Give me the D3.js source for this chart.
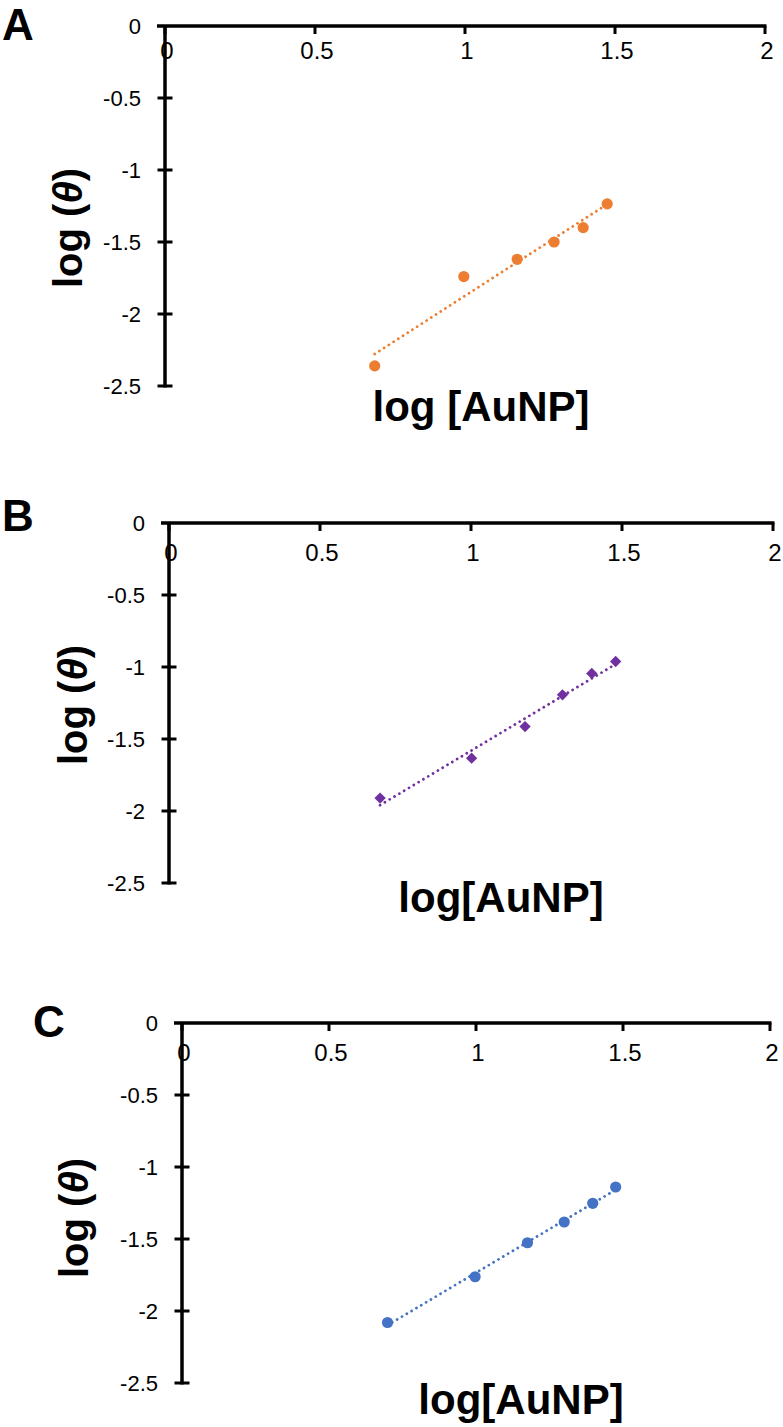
<!DOCTYPE html>
<html><head><meta charset="utf-8">
<script src="https://cdn.jsdelivr.net/npm/d3@7"></script>
<style>
html,body{margin:0;padding:0;background:#fff;}
svg{display:block;}
.tick-label{font-family:"Liberation Sans Narrow","Arial Narrow","Liberation Sans",Arial,sans-serif;fill:#000;}
.title{font-family:"Liberation Sans",Arial,sans-serif;font-weight:bold;fill:#000;}
</style></head>
<body>
<script>
// ---- data ----
const xTicks = [0, 0.5, 1, 1.5, 2];
const yTicks = [0, -0.5, -1, -1.5, -2, -2.5];
const xTickLabels = ["0", "0.5", "1", "1.5", "2"];
const yTickLabels = ["0", "-0.5", "-1", "-1.5", "-2", "-2.5"];

const panelLabels = ["A", "B", "C"];
const xTitles = ["log [AuNP]", "log[AuNP]", "log[AuNP]"];

const xA = [0.699, 0.996, 1.174, 1.297, 1.394, 1.474];
const yA = [-2.36, -1.74, -1.62, -1.50, -1.40, -1.235];

const xB = [0.699, 1.002, 1.179, 1.303, 1.400, 1.479];
const yB = [-1.91, -1.633, -1.414, -1.193, -1.045, -0.962];

const xC = [0.699, 0.997, 1.175, 1.300, 1.397, 1.475];
const yC = [-2.08, -1.762, -1.526, -1.382, -1.252, -1.139];

const colors = ["#ED7D31", "#7030A0", "#4472C4"];
const markers = ["circle", "diamond", "circle"];

// ---- layout ----
const W = 783, H = 1427;
const layout = [
  {x0:165, x2:765, y0:26,   yB:386,  xlOff:33, lab:[2,40],    xt:[481,421],  yt:[82,228]},
  {x0:169, x2:773, y0:523,  yB:883,  xlOff:38, lab:[2,531],   xt:[501,912],  yt:[87,705]},
  {x0:182, x2:770, y0:1023, yB:1383, xlOff:38, lab:[33,1037], xt:[521,1414], yt:[88,1218]}
];
const series = [[xA,yA],[xB,yB],[xC,yC]];

const svg = d3.select("body").append("svg").attr("width", W).attr("height", H);

function fit(xs, ys){
  const n = xs.length, mx = d3.mean(xs), my = d3.mean(ys);
  let sxy=0, sxx=0;
  for(let i=0;i<n;i++){sxy+=(xs[i]-mx)*(ys[i]-my); sxx+=(xs[i]-mx)**2;}
  const b = sxy/sxx; return {b, a: my - b*mx};
}

layout.forEach((L, i) => {
  const g = svg.append("g");
  const x = d3.scaleLinear().domain([0, 2]).range([L.x0, L.x2]);
  const y = d3.scaleLinear().domain([0, -2.5]).range([L.y0, L.yB]);

  // x axis
  g.append("line").attr("x1", x(0) - 8).attr("x2", x(2) + 1.5)
    .attr("y1", y(0)).attr("y2", y(0)).attr("stroke", "#000").attr("stroke-width", 3.5);
  g.selectAll(".xt").data(xTicks).enter().append("line")
    .attr("x1", d => x(d)).attr("x2", d => x(d))
    .attr("y1", y(0)).attr("y2", y(0) + 8).attr("stroke", "#000").attr("stroke-width", 3);
  // y axis
  g.append("line").attr("x1", x(0)).attr("x2", x(0))
    .attr("y1", y(0)).attr("y2", y(-2.5) + 1.5).attr("stroke", "#000").attr("stroke-width", 3.5);
  g.selectAll(".yt").data(yTicks.slice(1)).enter().append("line")
    .attr("x1", x(0) - 7.5).attr("x2", x(0) + 7.5)
    .attr("y1", d => y(d)).attr("y2", d => y(d)).attr("stroke", "#000").attr("stroke-width", 3);

  // tick labels
  g.selectAll(".xl").data(xTicks).enter().append("text").attr("class", "tick-label")
    .attr("x", d => x(d) + 2).attr("y", y(0) + L.xlOff).attr("text-anchor", "middle")
    .attr("font-size", 24).text((d, k) => xTickLabels[k]);
  g.selectAll(".yl").data(yTicks).enter().append("text").attr("class", "tick-label")
    .attr("x", x(0) - 24).attr("y", d => y(d)).attr("dy", "0.35em").attr("text-anchor", "end")
    .attr("font-size", 22).text((d, k) => yTickLabels[k]);

  // titles
  g.append("text").attr("class", "title").attr("x", L.xt[0]).attr("y", L.xt[1])
    .attr("text-anchor", "middle").attr("font-size", 42).text(xTitles[i]);
  const yt = g.append("text").attr("class", "title")
    .attr("transform", `translate(${L.yt[0]},${L.yt[1]}) rotate(-90)`)
    .attr("text-anchor", "middle").attr("font-size", 40);
  yt.append("tspan").text("log (");
  yt.append("tspan").attr("font-style", "italic").text("θ");
  yt.append("tspan").text(")");

  g.append("text").attr("class", "title").attr("x", L.lab[0]).attr("y", L.lab[1])
    .attr("font-size", 44).text(panelLabels[i]);

  // trendline
  const [xs, ys] = series[i];
  const f = fit(xs, ys);
  const ext = d3.extent(xs);
  g.append("line")
    .attr("x1", x(ext[0])).attr("y1", y(f.a + f.b*ext[0]))
    .attr("x2", x(ext[1])).attr("y2", y(f.a + f.b*ext[1]))
    .attr("stroke", colors[i]).attr("stroke-width", 2.8)
    .attr("stroke-dasharray", "0.01 5.6").attr("stroke-linecap", "round");

  // markers
  const pts = xs.map((v, k) => [v, ys[k]]);
  if (markers[i] === "circle") {
    g.selectAll(".pt").data(pts).enter().append("circle")
      .attr("cx", d => x(d[0])).attr("cy", d => y(d[1])).attr("r", 5.6).attr("fill", colors[i]);
  } else {
    g.selectAll(".pt").data(pts).enter().append("path")
      .attr("transform", d => `translate(${x(d[0])},${y(d[1])}) rotate(45)`)
      .attr("d", d3.symbol().type(d3.symbolSquare).size(64)).attr("fill", colors[i]);
  }
});
</script>
</body></html>
